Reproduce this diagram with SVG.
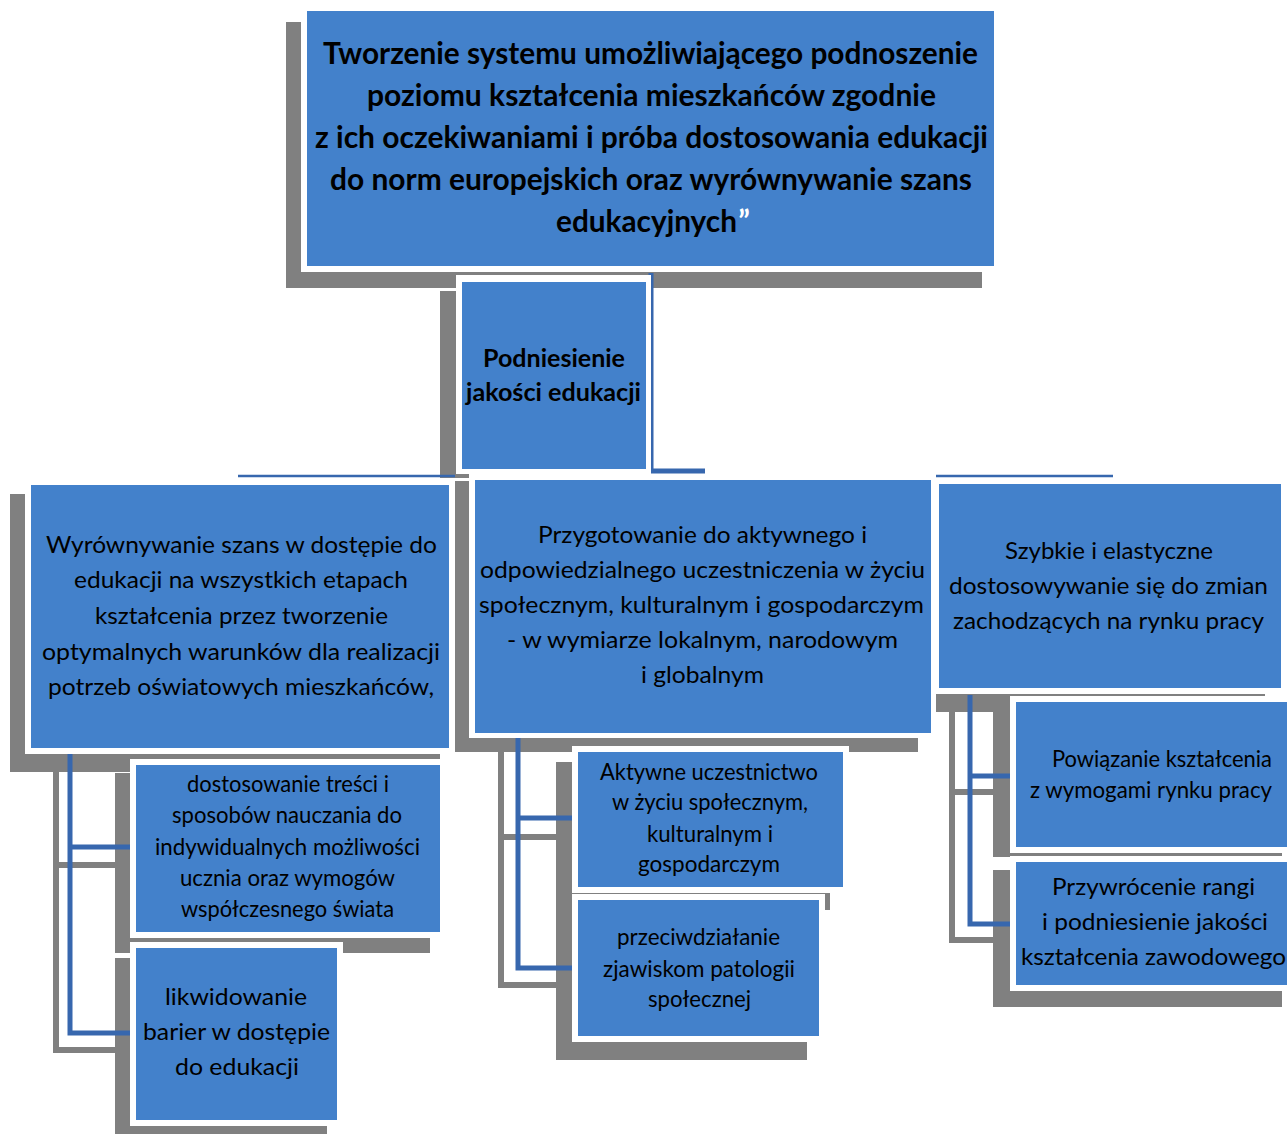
<svg xmlns="http://www.w3.org/2000/svg" width="1287" height="1135" viewBox="0 0 1287 1135">
<style>
.sh{fill:#808080}
.wb{fill:#ffffff}
.bx{fill:#4381cb}
.cn{stroke:#3767ae;stroke-width:5;fill:none}
.cs{stroke:#808080;stroke-width:6;fill:none}
.thin{stroke:#3767ae;stroke-width:2.5;fill:none}
text{font-family:Lato,"Open Sans","DejaVu Sans",sans-serif;fill:#000;text-anchor:middle}
.t{font-size:30px;font-weight:bold}
.m{font-size:25px;font-weight:bold}
.r{font-size:24px}
.s{font-size:23px}
</style>
<rect width="1287" height="1135" fill="#ffffff"/>
<g id="shadows">
<rect class="sh" x="286" y="22" width="696" height="266"/>
<rect class="sh" x="440" y="291" width="196" height="187"/>
<rect class="sh" x="10" y="494" width="430" height="278"/>
<rect class="sh" x="455" y="481" width="463" height="271"/>
<rect class="sh" x="925" y="494" width="340" height="218"/>
<rect class="sh" x="115" y="773" width="315" height="180"/>
<rect class="sh" x="115" y="958" width="212" height="176"/>
<rect class="sh" x="556" y="762" width="274" height="148"/>
<rect class="sh" x="556" y="910" width="251" height="150"/>
<rect class="sh" x="993" y="697" width="289" height="160"/>
<rect class="sh" x="993" y="870" width="289" height="137"/>
</g>
<g id="connectors">
<path class="cs" d="M56 772 V1050 H115 M56 865 H115"/>
<path class="cs" d="M501 750 V985 H556 M501 837 H556"/>
<path class="cs" d="M952 712 V940 H993 M952 792 H993"/>
<path class="cn" d="M651 273 V471 H705"/>
<path class="thin" d="M238 476 H455 M933 476 H1113"/>
<path class="cn" d="M70 750 V1033 H131 M70 847 H131"/>
<path class="cn" d="M518 737 V968 H573 M518 818 H573"/>
<path class="cn" d="M970 695 V924 H1012 M970 776 H1012"/>
</g>
<g id="n-top">
<rect class="wb" x="301" y="5" width="699" height="267"/>
<rect class="bx" x="307" y="11" width="687" height="255"/>
<text class="t" x="650.5" y="64" textLength="655" lengthAdjust="spacingAndGlyphs">Tworzenie systemu umożliwiającego podnoszenie</text>
<text class="t" x="651.5" y="106" textLength="569" lengthAdjust="spacingAndGlyphs">poziomu kształcenia mieszkańców zgodnie</text>
<text class="t" x="651.5" y="148" textLength="673" lengthAdjust="spacingAndGlyphs">z ich oczekiwaniami i próba dostosowania edukacji</text>
<text class="t" x="651" y="190" textLength="642" lengthAdjust="spacingAndGlyphs">do norm europejskich oraz wyrównywanie szans</text>
<text class="t" x="646.5" y="232" textLength="181" lengthAdjust="spacingAndGlyphs">edukacyjnych</text>
<text class="t" x="744" y="232" style="fill:#ffffff">”</text>
</g>
<g id="n-mid">
<rect class="wb" x="456" y="275" width="195" height="199"/>
<rect class="bx" x="462" y="282" width="184" height="187"/>
<text class="m" x="554" y="367" textLength="142" lengthAdjust="spacingAndGlyphs">Podniesienie</text>
<text class="m" x="553.5" y="401" textLength="175" lengthAdjust="spacingAndGlyphs">jakości edukacji</text>
</g>
<g id="n-left">
<rect class="wb" x="25" y="479" width="430" height="275"/>
<rect class="bx" x="31" y="485" width="418" height="263"/>
<text class="r" x="241.5" y="553" textLength="391" lengthAdjust="spacingAndGlyphs">Wyrównywanie szans w dostępie do</text>
<text class="r" x="241" y="588" textLength="334" lengthAdjust="spacingAndGlyphs">edukacji na wszystkich etapach</text>
<text class="r" x="241.5" y="624" textLength="293" lengthAdjust="spacingAndGlyphs">kształcenia przez tworzenie</text>
<text class="r" x="241" y="660" textLength="398" lengthAdjust="spacingAndGlyphs">optymalnych warunków dla realizacji</text>
<text class="r" x="241" y="695" textLength="386" lengthAdjust="spacingAndGlyphs">potrzeb oświatowych mieszkańców,</text>
</g>
<g id="n-center">
<rect class="wb" x="469" y="474" width="467" height="264"/>
<rect class="bx" x="475" y="480" width="456" height="253"/>
<text class="r" x="702.5" y="543" textLength="329" lengthAdjust="spacingAndGlyphs">Przygotowanie do aktywnego i</text>
<text class="r" x="702.5" y="578" textLength="445" lengthAdjust="spacingAndGlyphs">odpowiedzialnego uczestniczenia w życiu</text>
<text class="r" x="701.5" y="613" textLength="445" lengthAdjust="spacingAndGlyphs">społecznym, kulturalnym i gospodarczym</text>
<text class="r" x="702.5" y="648" textLength="391" lengthAdjust="spacingAndGlyphs">- w wymiarze lokalnym, narodowym</text>
<text class="r" x="702.5" y="683" textLength="123" lengthAdjust="spacingAndGlyphs">i globalnym</text>
</g>
<g id="n-right">
<rect class="wb" x="933" y="478" width="354" height="216"/>
<rect class="bx" x="939" y="484" width="342" height="204"/>
<text class="r" x="1109" y="559" textLength="208" lengthAdjust="spacingAndGlyphs">Szybkie i elastyczne</text>
<text class="r" x="1108.5" y="594" textLength="319" lengthAdjust="spacingAndGlyphs">dostosowywanie się do zmian</text>
<text class="r" x="1108.5" y="629" textLength="311" lengthAdjust="spacingAndGlyphs">zachodzących na rynku pracy</text>
</g>
<g id="n-left-1">
<rect class="wb" x="130" y="759" width="316" height="179"/>
<rect class="bx" x="136" y="765" width="304" height="167"/>
<text class="s" x="288" y="792" textLength="202" lengthAdjust="spacingAndGlyphs">dostosowanie treści i</text>
<text class="s" x="287" y="823" textLength="230" lengthAdjust="spacingAndGlyphs">sposobów nauczania do</text>
<text class="s" x="287.5" y="855" textLength="265" lengthAdjust="spacingAndGlyphs">indywidualnych możliwości</text>
<text class="s" x="287.5" y="886" textLength="215" lengthAdjust="spacingAndGlyphs">ucznia oraz wymogów</text>
<text class="s" x="287.5" y="917" textLength="213" lengthAdjust="spacingAndGlyphs">współczesnego świata</text>
</g>
<g id="n-left-2">
<rect class="wb" x="130" y="942" width="213" height="184"/>
<rect class="bx" x="136" y="948" width="201" height="172"/>
<text class="r" x="236" y="1005" textLength="142" lengthAdjust="spacingAndGlyphs">likwidowanie</text>
<text class="r" x="236.5" y="1040" textLength="187" lengthAdjust="spacingAndGlyphs">barier w dostępie</text>
<text class="r" x="237" y="1075" textLength="124" lengthAdjust="spacingAndGlyphs">do edukacji</text>
</g>
<g id="n-center-1">
<rect class="wb" x="572" y="746" width="277" height="147"/>
<rect class="bx" x="578" y="752" width="265" height="135"/>
<text class="s" x="709" y="780" textLength="218" lengthAdjust="spacingAndGlyphs">Aktywne uczestnictwo</text>
<text class="s" x="710" y="810" textLength="196" lengthAdjust="spacingAndGlyphs">w życiu społecznym,</text>
<text class="s" x="710" y="842" textLength="126" lengthAdjust="spacingAndGlyphs">kulturalnym i</text>
<text class="s" x="709" y="872" textLength="142" lengthAdjust="spacingAndGlyphs">gospodarczym</text>
</g>
<g id="n-center-2">
<rect class="wb" x="572" y="894" width="253" height="148"/>
<rect class="bx" x="578" y="900" width="241" height="136"/>
<text class="s" x="698.5" y="945" textLength="163" lengthAdjust="spacingAndGlyphs">przeciwdziałanie</text>
<text class="s" x="699" y="977" textLength="192" lengthAdjust="spacingAndGlyphs">zjawiskom patologii</text>
<text class="s" x="699.5" y="1007" textLength="103" lengthAdjust="spacingAndGlyphs">społecznej</text>
</g>
<g id="n-right-1">
<rect class="wb" x="1010" y="696" width="277" height="157"/>
<rect class="bx" x="1016" y="702" width="271" height="145"/>
<text class="s" x="1162" y="767" textLength="220" lengthAdjust="spacingAndGlyphs">Powiązanie kształcenia</text>
<text class="s" x="1151" y="798" textLength="242" lengthAdjust="spacingAndGlyphs">z wymogami rynku pracy</text>
</g>
<g id="n-right-2">
<rect class="wb" x="1010" y="856" width="277" height="135"/>
<rect class="bx" x="1016" y="862" width="271" height="123"/>
<text class="r" x="1153.5" y="895" textLength="203" lengthAdjust="spacingAndGlyphs">Przywrócenie rangi</text>
<text class="r" x="1155" y="930" textLength="226" lengthAdjust="spacingAndGlyphs">i podniesienie jakości</text>
<text class="r" x="1153.5" y="965" textLength="265" lengthAdjust="spacingAndGlyphs">kształcenia zawodowego</text>
</g>
</svg>
